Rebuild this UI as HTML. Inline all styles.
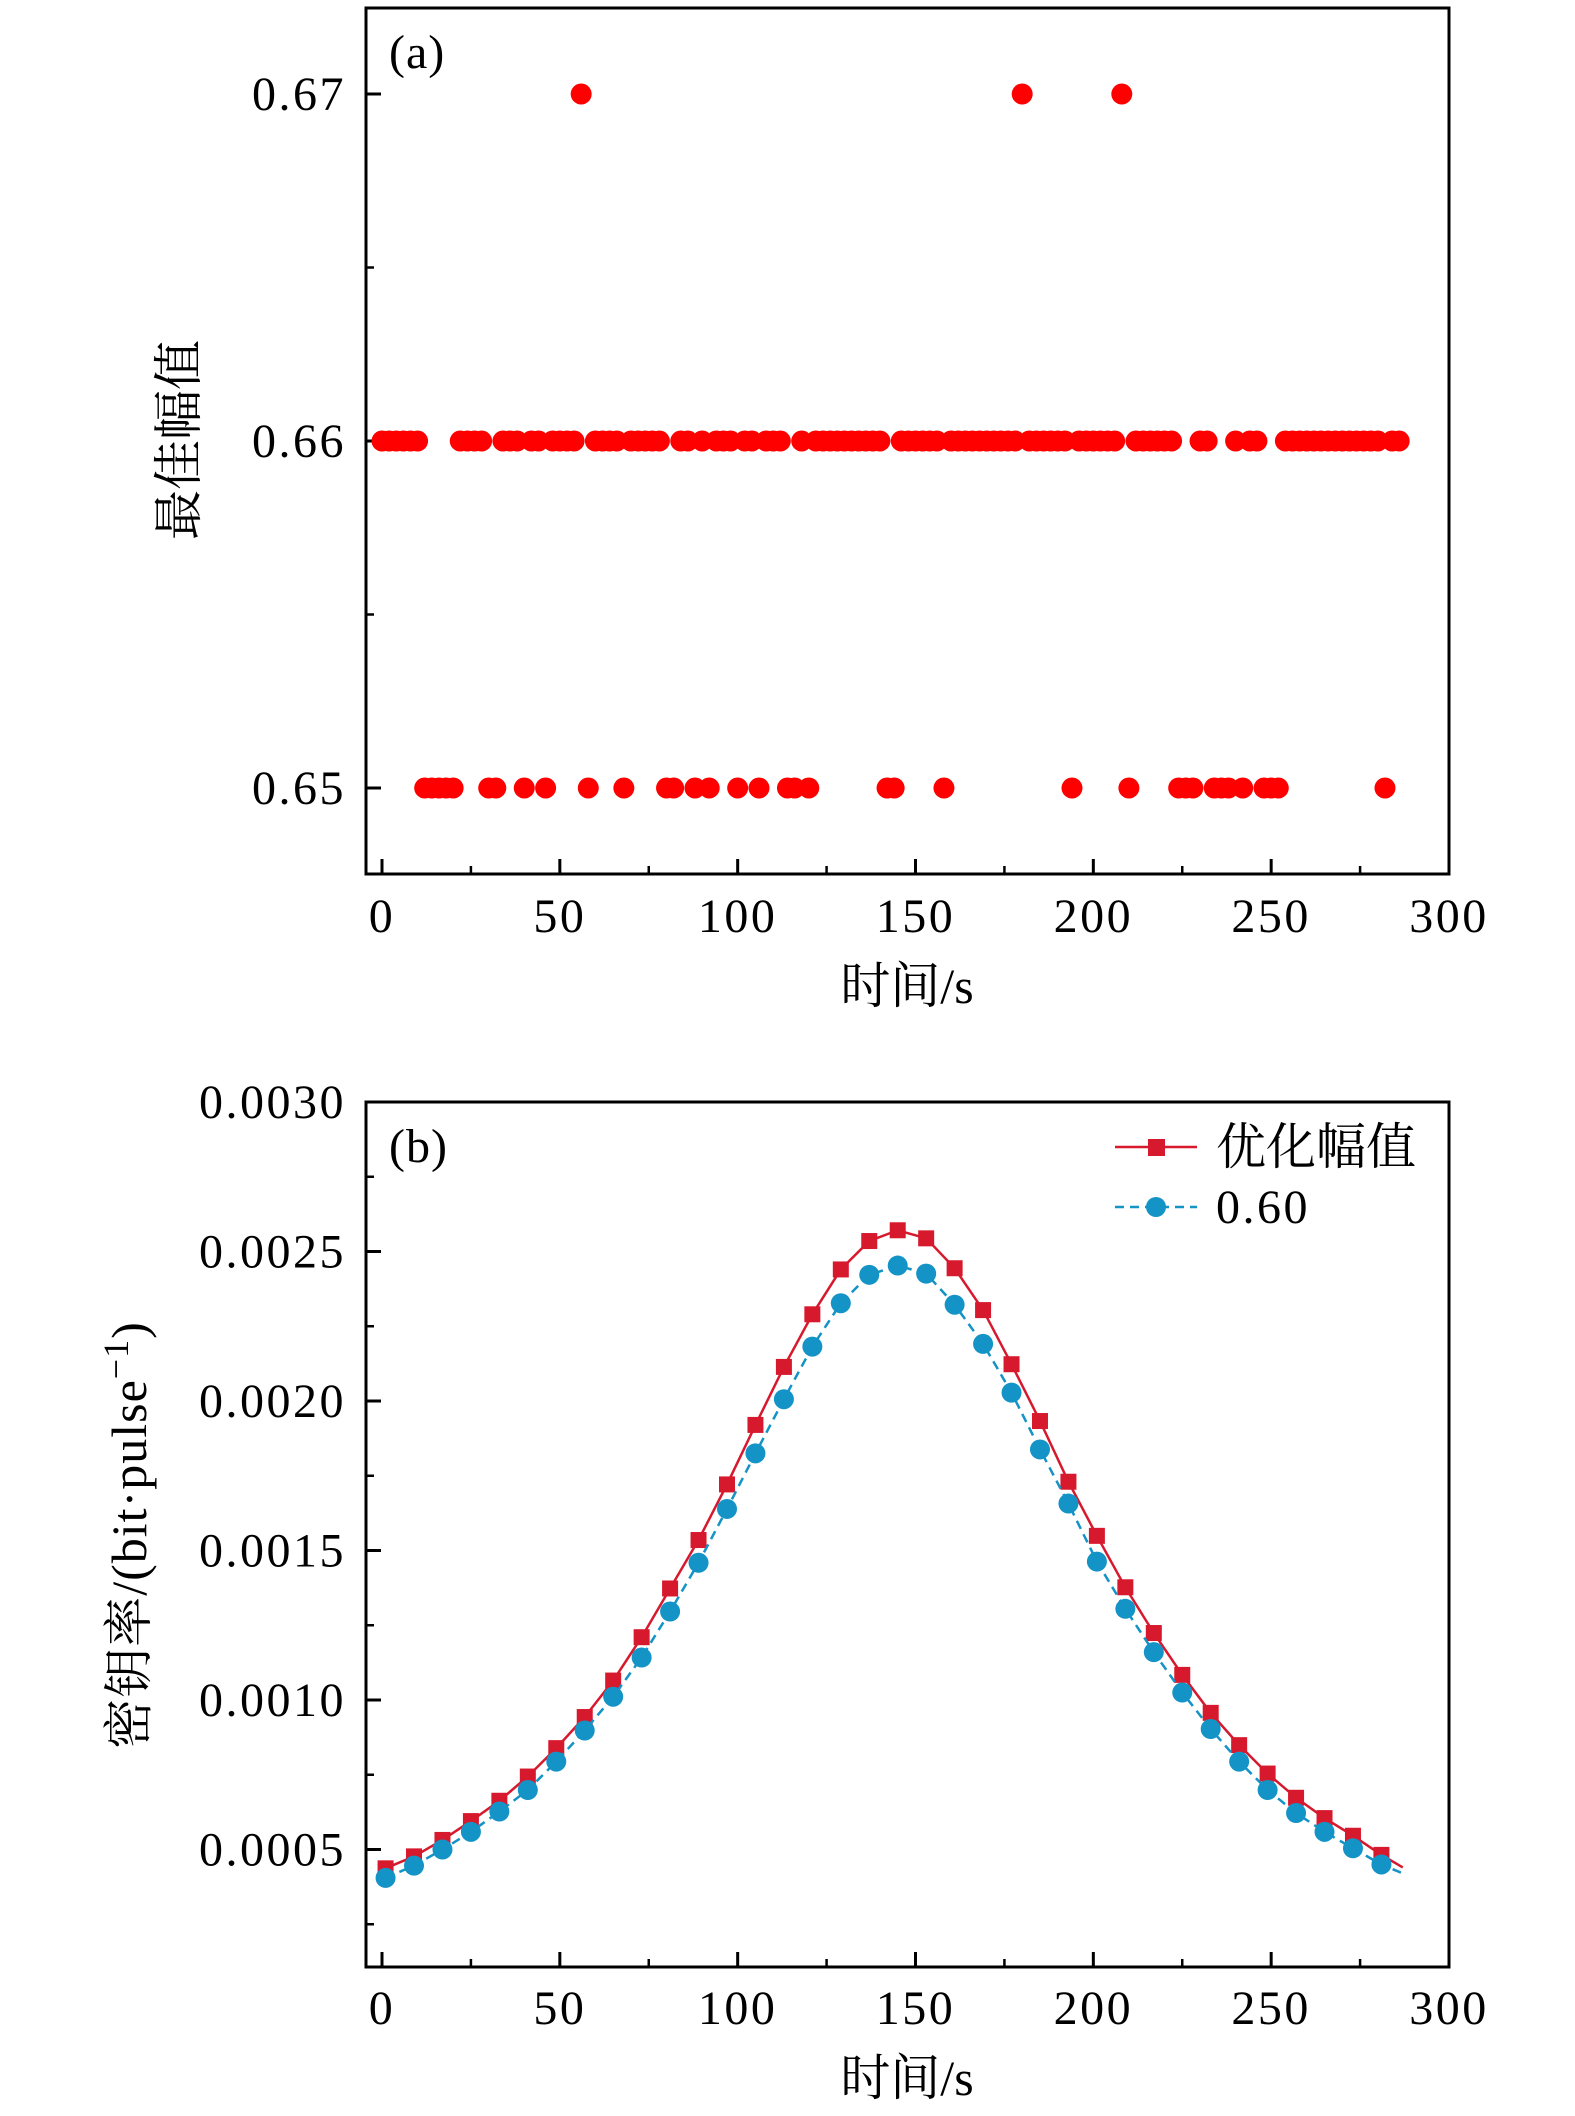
<!DOCTYPE html>
<html><head><meta charset="utf-8"><style>
html,body{margin:0;padding:0;background:#fff;}
svg{display:block;}
text{font-family:"Liberation Serif","Noto Serif CJK SC",serif;fill:#000;}
</style></head><body>
<svg id="chart" width="1575" height="2116" viewBox="0 0 1575 2116" xmlns="http://www.w3.org/2000/svg">
<g id="pa"></g>
<g id="pb"></g>
</svg>
<script>
// Panel (a) data
const aTimes = [0,2,4,6,8,10,12,14,16,18,20,22,24,26,28,30,32,34,36,38,40,42,44,46,48,50,52,54,56,58,60,62,64,66,68,70,72,74,76,78,80,82,84,86,88,90,92,94,96,98,100,102,104,106,108,110,112,114,116,118,120,122,124,126,128,130,132,134,136,138,140,142,144,146,148,150,152,154,156,158,160,162,164,166,168,170,172,174,176,178,180,182,184,186,188,190,192,194,196,198,200,202,204,206,208,210,212,214,216,218,220,222,224,226,228,230,232,234,236,238,240,242,244,246,248,250,252,254,256,258,260,262,264,266,268,270,272,274,276,278,280,282,284,286];
const aValues = [
0.66,0.66,0.66,0.66,0.66,0.66,
0.65,0.65,0.65,0.65,0.65,
0.66,0.66,0.66,0.66,
0.65,0.65,
0.66,0.66,0.66,
0.65,
0.66,0.66,
0.65,
0.66,0.66,0.66,0.66,
0.67,
0.65,
0.66,0.66,0.66,0.66,
0.65,
0.66,0.66,0.66,0.66,0.66,
0.65,0.65,
0.66,0.66,
0.65,
0.66,
0.65,
0.66,0.66,0.66,
0.65,
0.66,0.66,
0.65,
0.66,0.66,0.66,
0.65,0.65,
0.66,
0.65,
0.66,0.66,0.66,0.66,0.66,0.66,0.66,0.66,0.66,0.66,
0.65,0.65,
0.66,0.66,0.66,0.66,0.66,0.66,
0.65,
0.66,0.66,0.66,0.66,0.66,0.66,0.66,0.66,0.66,0.66,
0.67,
0.66,0.66,0.66,0.66,0.66,0.66,
0.65,
0.66,0.66,0.66,0.66,0.66,0.66,
0.67,
0.65,
0.66,0.66,0.66,0.66,0.66,0.66,
0.65,0.65,0.65,
0.66,0.66,
0.65,0.65,0.65,
0.66,
0.65,
0.66,0.66,
0.65,0.65,0.65,
0.66,0.66,0.66,0.66,0.66,0.66,0.66,0.66,0.66,0.66,0.66,0.66,0.66,0.66,
0.65,
0.66,0.66];
const aYTicks = [0.65,0.66,0.67];
const aYTickLabels = ["0.65","0.66","0.67"];
const xTicks = [0,50,100,150,200,250,300];
const xTickLabels = ["0","50","100","150","200","250","300"];

// Panel (b) data
const bTimes = [1,9,17,25,33,41,49,57,65,73,81,89,97,105,113,121,129,137,145,153,161,169,177,185,193,201,209,217,225,233,241,249,257,265,273,281];
const bOptimized = [0.000437,0.000477,0.000532,0.000595,0.000663,0.000744,0.000839,0.000943,0.001065,0.001210,0.001373,0.001535,0.001721,0.001920,0.002114,0.002290,0.002440,0.002535,0.002571,0.002544,0.002444,0.002304,0.002123,0.001933,0.001730,0.001549,0.001377,0.001224,0.001084,0.000957,0.000849,0.000754,0.000673,0.000605,0.000546,0.000482];
const bFixed060 = [0.000405,0.000446,0.000500,0.000559,0.000627,0.000699,0.000794,0.000898,0.001011,0.001142,0.001296,0.001459,0.001639,0.001825,0.002006,0.002182,0.002327,0.002422,0.002453,0.002426,0.002322,0.002191,0.002028,0.001838,0.001657,0.001463,0.001305,0.001160,0.001025,0.000903,0.000794,0.000699,0.000622,0.000559,0.000504,0.000450];
const bTailTime = 287;
const bOptimizedTail = 0.000440;
const bFixedTail = 0.000420;
const bYTicks = [0.0005,0.0010,0.0015,0.0020,0.0025,0.0030];
const bYTickLabels = ["0.0005","0.0010","0.0015","0.0020","0.0025","0.0030"];
const legendLabels = ["优化幅值","0.60"];

const NS = "http://www.w3.org/2000/svg";
function mk(parent, tag, attrs, txt){
  const e = document.createElementNS(NS, tag);
  for (const k in attrs) e.setAttribute(k, attrs[k]);
  if (txt !== undefined) e.textContent = txt;
  parent.appendChild(e);
  return e;
}
const L = 366, R = 1449;
const xs = t => 382 + t * (1449 - 382) / 300;
const FS = 48, LS = 2.5;

function axes(g, top, bottom, ys, yTicks, yLabels, yMinor, tag, xlabY, xtitleY){
  const box = mk(g, 'rect', {x:L, y:top, width:R-L, height:bottom-top, fill:'none', stroke:'#000', 'stroke-width':3});
  
  
  for (let i=0;i<yTicks.length;i++){
    const y = ys(yTicks[i]);
    const tk = mk(g,'line',{x1:L,x2:L+15,y1:y,y2:y,stroke:'#000','stroke-width':3});
    
    
    const lb = mk(g,'text',{x:346,y:y+16,'font-size':FS,'letter-spacing':LS,'text-anchor':'end'}, yLabels[i]);
    
    
  }
  for (const v of yMinor){
    const y = ys(v);
    const tk = mk(g,'line',{x1:L,x2:L+8,y1:y,y2:y,stroke:'#000','stroke-width':2.5});
    
    
  }
  for (let i=0;i<xTicks.length;i++){
    const x = xs(xTicks[i]);
    const tk = mk(g,'line',{x1:x,x2:x,y1:bottom,y2:bottom-15,stroke:'#000','stroke-width':3});
    
    
    const lb = mk(g,'text',{x:x,y:xlabY,'font-size':FS,'letter-spacing':LS,'text-anchor':'middle'}, xTickLabels[i]);
    
    
    if (i < xTicks.length-1){
      const xm = xs(xTicks[i]+25);
      const mt = mk(g,'line',{x1:xm,x2:xm,y1:bottom,y2:bottom-8,stroke:'#000','stroke-width':2.5});
      
      
    }
  }
  const xt = mk(g,'text',{x:907,y:xtitleY,'font-size':50,'text-anchor':'middle'},'时间/s');
  
  
  const pt = mk(g,'text',{x:389,y:top+60,'font-size':FS,'letter-spacing':1},tag);
  
  
}

// ---- Panel a
const pa = document.getElementById('pa');
const yaS = v => 441 + (0.66 - v) * 34700;
axes(pa, 8, 874, yaS, aYTicks, aYTickLabels, [0.655,0.665], '(a)', 932, 1003);
const ta = mk(pa,'text',{x:0,y:0,'font-size':50,'text-anchor':'middle',transform:'translate(196,440) rotate(-90)'},'最佳幅值');


for (let i=0;i<aTimes.length;i++){
  const c = mk(pa,'circle',{cx:xs(aTimes[i]),cy:yaS(aValues[i]),r:10.5,fill:'#ff0000'});
  
  
}

// ---- Panel b
const pb = document.getElementById('pb');
const ybS = v => 1102 + (0.0030 - v) * 299000;
axes(pb, 1102, 1967, ybS, bYTicks, bYTickLabels, [0.00025,0.00075,0.00125,0.00175,0.00225,0.00275], '(b)', 2024, 2095);
const tb = mk(pb,'text',{x:0,y:0,'font-size':50,'letter-spacing':1,'text-anchor':'middle',transform:'translate(146,1535) rotate(-90)'});


mk(tb,'tspan',{},'密钥率/(bit·pulse');
mk(tb,'tspan',{dy:-18,'font-size':36},'−1');
mk(tb,'tspan',{dy:18},')');

function series(times, vals, tailT, tailV, color, dashed, square, name){
  let pts = times.map((t,i)=>xs(t).toFixed(1)+','+ybS(vals[i]).toFixed(1));
  pts.push(xs(tailT).toFixed(1)+','+ybS(tailV).toFixed(1));
  const attrs = {points:pts.join(' '),fill:'none',stroke:color,'stroke-width':2.5};
  if (dashed) attrs['stroke-dasharray']='9,6';
  const pl = mk(pb,'polyline',attrs);
  
  
  for (let i=0;i<times.length;i++){
    const x = xs(times[i]), y = ybS(vals[i]);
    let m;
    if (square) m = mk(pb,'rect',{x:x-8,y:y-8,width:16,height:16,fill:color});
    else m = mk(pb,'circle',{cx:x,cy:y,r:10,fill:color});
    
    
  }
}
series(bTimes, bOptimized, bTailTime, bOptimizedTail, '#d7192e', false, true, 'optimized-amplitude');
series(bTimes, bFixed060, bTailTime, bFixedTail, '#1493c6', true, false, 'fixed-060');

// legend
const lg = mk(pb,'g',{});


const l1 = mk(lg,'g',{});


mk(l1,'line',{x1:1115,x2:1197,y1:1147,y2:1147,stroke:'#d7192e','stroke-width':2.5});
mk(l1,'rect',{x:1148,y:1139,width:17,height:17,fill:'#d7192e'});
mk(l1,'text',{x:1216,y:1164,'font-size':50},legendLabels[0]);
const l2 = mk(lg,'g',{});


mk(l2,'line',{x1:1115,x2:1197,y1:1207,y2:1207,stroke:'#1493c6','stroke-width':2.5,'stroke-dasharray':'9,6'});
mk(l2,'circle',{cx:1156,cy:1207,r:10,fill:'#1493c6'});
mk(l2,'text',{x:1216,y:1223,'font-size':FS,'letter-spacing':LS},legendLabels[1]);
</script>
</body></html>
